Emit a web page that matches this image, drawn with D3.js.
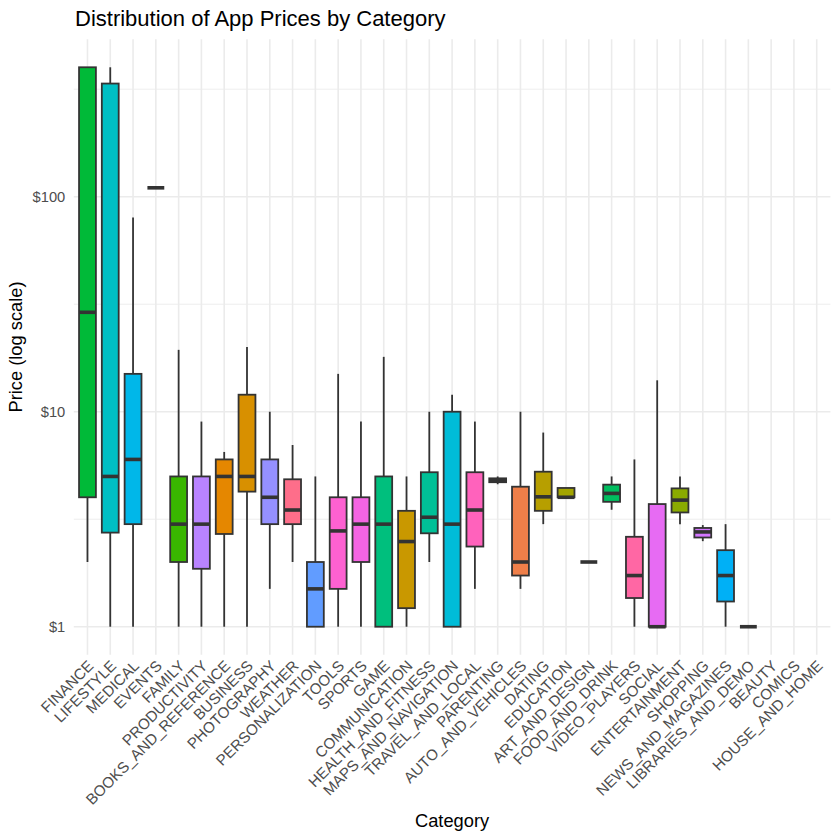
<!DOCTYPE html>
<html>
<head>
<meta charset="utf-8">
<script src="https://cdn.jsdelivr.net/npm/d3@7"></script>
<style>
  html, body { margin: 0; padding: 0; background: #ffffff; }
  svg text { font-family: "Liberation Sans", Arial, Helvetica, sans-serif; }
</style>
</head>
<body>
<svg id="chart" width="840" height="840"></svg>
<script>
// ---- data ----
const categories = ["FINANCE","LIFESTYLE","MEDICAL","EVENTS","FAMILY","PRODUCTIVITY","BOOKS_AND_REFERENCE","BUSINESS","PHOTOGRAPHY","WEATHER","PERSONALIZATION","TOOLS","SPORTS","GAME","COMMUNICATION","HEALTH_AND_FITNESS","MAPS_AND_NAVIGATION","TRAVEL_AND_LOCAL","PARENTING","AUTO_AND_VEHICLES","DATING","EDUCATION","ART_AND_DESIGN","FOOD_AND_DRINK","VIDEO_PLAYERS","SOCIAL","ENTERTAINMENT","SHOPPING","NEWS_AND_MAGAZINES","LIBRARIES_AND_DEMO","BEAUTY","COMICS","HOUSE_AND_HOME"];
const whiskerLow  = [2, 1, 1, 110, 1, 1, 1, 1, 1.5, 2, 1, 1, 1, 1, 1, 2, 1, 1.5, 4.6, 1.5, 3, 4, 2, 3.5, 1, 1, 3, 2.5, 1, 1, null, null, null];
const q1          = [4, 2.74, 3, 110, 2, 1.86, 2.7, 4.25, 3, 3, 1, 1.5, 2, 1, 1.22, 2.72, 1, 2.36, 4.7, 1.73, 3.46, 4, 2, 3.81, 1.36, 1, 3.4, 2.6, 1.31, 1, null, null, null];
const medians     = [29, 5, 6, 110, 3, 3, 5, 5, 4, 3.49, 1.5, 2.79, 3, 3, 2.49, 3.23, 3, 3.49, 4.8, 2, 4.02, 4, 2, 4.17, 1.73, 1, 3.88, 2.76, 1.73, 1, null, null, null];
const q3          = [400, 336, 15, 110, 5, 5, 6, 12, 6, 4.85, 2, 4, 4, 5, 3.46, 5.23, 10, 5.23, 4.9, 4.48, 5.26, 4.42, 2, 4.58, 2.62, 3.72, 4.4, 2.88, 2.27, 1, null, null, null];
const whiskerHigh = [400, 400, 80, 110, 19.4, 9, 6.5, 20, 10, 7, 5, 15, 9, 18, 5, 10, 12, 9, 5, 10, 8, 4.42, 2, 5, 6, 14, 5, 2.97, 3, 1, null, null, null];
const yTickValues = [1, 10, 100];
const yTickLabels = ["$1", "$10", "$100"];

// ---- R-style hcl (polar LUV) colour ----
function rhcl(h, c, l) {
  const WHITE_Y = 100, WHITE_u = 0.1978398, WHITE_v = 0.4683363;
  const hr = h * Math.PI / 180;
  const U = c * Math.cos(hr), V = c * Math.sin(hr);
  const Y = WHITE_Y * (l > 7.999592 ? Math.pow((l + 16) / 116, 3) : l / 903.3);
  const u = U / (13 * l) + WHITE_u;
  const v = V / (13 * l) + WHITE_v;
  const X = 9.0 * Y * u / (4 * v);
  const Z = -X / 3 - 5 * Y + 3 * Y / v;
  const g = x => x > 0.00304 ? 1.055 * Math.pow(x, 1 / 2.4) - 0.055 : 12.92 * x;
  const cl = x => Math.round(255 * Math.max(0, Math.min(1, g(x))));
  const R = cl((3.240479 * X - 1.537150 * Y - 0.498535 * Z) / WHITE_Y);
  const G = cl((-0.969256 * X + 1.875992 * Y + 0.041556 * Z) / WHITE_Y);
  const B = cl((0.055648 * X - 0.204043 * Y + 1.057311 * Z) / WHITE_Y);
  return d3.rgb(R, G, B).formatHex();
}

const rows = categories.map((c, i) => ({
  cat: c, lo: whiskerLow[i], q1: q1[i], med: medians[i], q3: q3[i], hi: whiskerHigh[i]
}));
const present = rows.filter(r => r.med != null);
const levels = present.map(r => r.cat).slice().sort();
const n = levels.length;
const hues = levels.map((_, i) => 15 + i * 360 / n);
const color = d3.scaleOrdinal().domain(levels).range(hues.map(h => rhcl(h, 100, 65)));

// ---- layout ----
const svg = d3.select("#chart");
const panel = { left: 73.8, right: 830.4, top: 39.3, bottom: 654.7 };

const x = d3.scalePoint().domain(categories).range([panel.left, panel.right]).padding(0.6);
const step = x.step();

const vmin = d3.min(present, r => r.lo), vmax = d3.max(present, r => r.hi);
const lmin = Math.log10(vmin), lmax = Math.log10(vmax), dl = lmax - lmin;
const y = d3.scaleLog()
  .domain([Math.pow(10, lmin - 0.05 * dl), Math.pow(10, lmax + 0.05 * dl)])
  .range([panel.bottom, panel.top]);

// grid
const grid = svg.append("g");
const minor = [];
for (let e = Math.floor(lmin - 1); e <= Math.ceil(lmax + 1); e++) minor.push(Math.pow(10, e + 0.5));
minor.filter(v => y(v) >= panel.top && y(v) <= panel.bottom).forEach(v => {
  grid.append("line").attr("x1", panel.left).attr("x2", panel.right)
    .attr("y1", y(v)).attr("y2", y(v))
    .attr("stroke", "#EBEBEB").attr("stroke-width", 0.9);
});
yTickValues.forEach(v => {
  grid.append("line").attr("x1", panel.left).attr("x2", panel.right)
    .attr("y1", y(v)).attr("y2", y(v))
    .attr("stroke", "#EBEBEB").attr("stroke-width", 1.6);
});
categories.forEach(c => {
  grid.append("line").attr("x1", x(c)).attr("x2", x(c))
    .attr("y1", panel.top).attr("y2", panel.bottom)
    .attr("stroke", "#EBEBEB").attr("stroke-width", 1.6);
});

// boxes
const bw = step * 0.74;
const boxes = svg.append("g").selectAll("g").data(present).join("g");
boxes.append("line")
  .attr("x1", d => x(d.cat)).attr("x2", d => x(d.cat))
  .attr("y1", d => y(d.q3)).attr("y2", d => y(d.hi))
  .attr("stroke", "#333333").attr("stroke-width", 1.8);
boxes.append("line")
  .attr("x1", d => x(d.cat)).attr("x2", d => x(d.cat))
  .attr("y1", d => y(d.q1)).attr("y2", d => y(d.lo))
  .attr("stroke", "#333333").attr("stroke-width", 1.8);
boxes.append("rect")
  .attr("x", d => x(d.cat) - bw / 2).attr("width", bw)
  .attr("y", d => y(d.q3)).attr("height", d => Math.max(0, y(d.q1) - y(d.q3)))
  .attr("fill", d => color(d.cat))
  .attr("stroke", "#333333").attr("stroke-width", 1.8);
boxes.append("line")
  .attr("x1", d => x(d.cat) - bw / 2).attr("x2", d => x(d.cat) + bw / 2)
  .attr("y1", d => y(d.med)).attr("y2", d => y(d.med))
  .attr("stroke", "#333333").attr("stroke-width", 3.6);

// y axis labels
const yAxis = d3.axisLeft(y).tickValues(yTickValues)
  .tickFormat((d, i) => yTickLabels[i]).tickSize(0).tickPadding(0);
const ya = svg.append("g").attr("transform", `translate(${panel.left - 8.5},0)`).call(yAxis);
ya.select(".domain").remove();
ya.selectAll("text").attr("fill", "#4D4D4D").attr("font-size", "14.7px")
  .style("font-family", "'Liberation Sans', Arial, sans-serif").attr("dy", "0.35em");

// x axis labels
const xAxis = d3.axisBottom(x).tickSize(0).tickPadding(0);
const xa = svg.append("g").attr("transform", `translate(0,${panel.bottom + 4.5})`).call(xAxis);
xa.select(".domain").remove();
xa.selectAll("text")
  .attr("fill", "#4D4D4D").attr("font-size", "15.2px")
  .style("font-family", "'Liberation Sans', Arial, sans-serif")
  .attr("text-anchor", "end")
  .attr("x", 0).attr("y", 0).attr("dy", "0.7em")
  .attr("transform", "translate(-1,0) rotate(-45)");

// titles
svg.append("text").attr("x", 75).attr("y", 26)
  .attr("font-size", "22px").attr("fill", "#000")
  .text("Distribution of App Prices by Category");
svg.append("text").attr("x", (panel.left + panel.right) / 2).attr("y", 826.5)
  .attr("text-anchor", "middle").attr("font-size", "18.3px").attr("fill", "#000")
  .text("Category");
svg.append("text")
  .attr("transform", `translate(21.5,${(panel.top + panel.bottom) / 2}) rotate(-90)`)
  .attr("text-anchor", "middle").attr("font-size", "18.3px").attr("fill", "#000")
  .text("Price (log scale)");
</script>
</body>
</html>
